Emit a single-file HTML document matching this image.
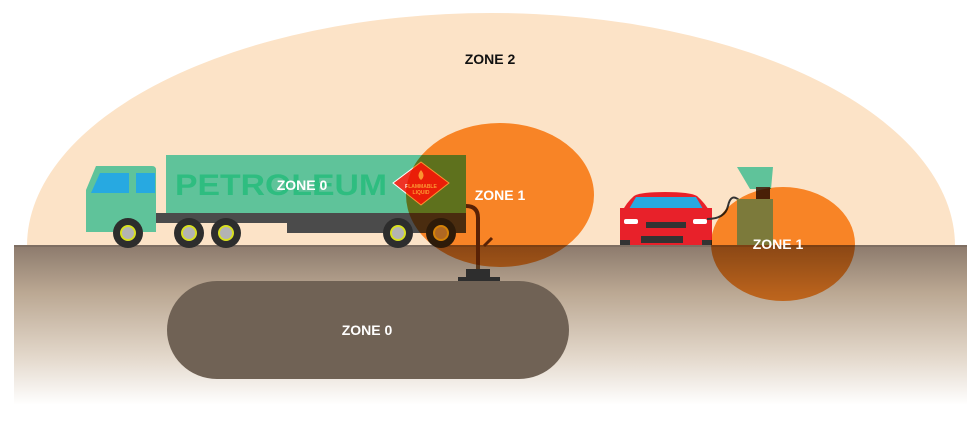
<!DOCTYPE html>
<html><head><meta charset="utf-8"><style>
html,body{margin:0;padding:0;background:#fff;width:972px;height:427px;overflow:hidden}
svg{display:block}
text{font-family:"Liberation Sans",sans-serif;font-weight:bold}
.m{mix-blend-mode:multiply}
</style></head><body>
<svg width="972" height="427" viewBox="0 0 972 427" xmlns="http://www.w3.org/2000/svg">
<defs>
<linearGradient id="g" x1="0" y1="0" x2="0" y2="1">
<stop offset="0" stop-color="#8c7a6c"/>
<stop offset="0.3" stop-color="#bba893"/>
<stop offset="0.7" stop-color="#e3d8cb"/>
<stop offset="1" stop-color="#ffffff"/>
</linearGradient>
</defs>
<path d="M27 246 A464 233 0 0 1 955 246 Z" fill="#fce3c7"/>
<text x="490" y="64" font-size="14" text-anchor="middle" fill="#111">ZONE 2</text>
<rect x="14" y="245" width="953" height="160" fill="url(#g)"/>
<rect x="14" y="245" width="953" height="2" fill="#7e6e62"/>
<rect x="167" y="281" width="402" height="98" rx="50" ry="49" fill="#706255"/>
<text x="367" y="335" font-size="14" text-anchor="middle" fill="#fff">ZONE 0</text>
<rect x="166" y="155" width="300" height="58" fill="#5fc39a"/>
<text x="175" y="195" font-size="30" fill="#2ebd80" textLength="212" lengthAdjust="spacingAndGlyphs">PETROLEUM</text>
<path d="M96 166 H152 Q156 166 156 170 V232 H86 V190 Z" fill="#5fc39a"/>
<path d="M100 173 H129 V193 H91 Z" fill="#27a9e1"/>
<rect x="136" y="173" width="19" height="20" fill="#27a9e1"/>
<rect x="156" y="213" width="310" height="10" fill="#4b4b4b"/>
<rect x="287" y="223" width="179" height="10" fill="#4b4b4b"/>
<g fill="#2d2d2d">
<circle cx="128" cy="233" r="15"/><circle cx="189" cy="233" r="15"/><circle cx="226" cy="233" r="15"/><circle cx="398" cy="233" r="15"/><circle cx="441" cy="233" r="15"/>
</g>
<g fill="#b3b3b3" stroke="#d8e021" stroke-width="2">
<circle cx="128" cy="233" r="7"/><circle cx="189" cy="233" r="7"/><circle cx="226" cy="233" r="7"/><circle cx="398" cy="233" r="7"/><circle cx="441" cy="233" r="7"/>
</g>
<path d="M421 162 L449 183 L421 205 L393 183 Z" fill="#ee3326" stroke="#fff" stroke-width="1"/>
<text x="421" y="188" font-size="5" text-anchor="middle" fill="#fff">FLAMMABLE</text>
<text x="421" y="194" font-size="5" text-anchor="middle" fill="#fff">LIQUID</text>
<path d="M421 170 q-5 6 0 10 q5 -4 0 -10z" fill="#fff"/>
<path d="M466 206 Q478 206 478 218 V272" stroke="#5a3a1e" stroke-width="4" fill="none"/>
<path d="M484 246 L492 238" stroke="#5a3a1e" stroke-width="3"/>
<rect x="466" y="269" width="24" height="9" fill="#2e2e2e"/>
<rect x="458" y="277" width="42" height="4" fill="#2e2e2e"/>
<path d="M622 245 V212 Q626 203 634 196 Q640 192 665 192 Q690 192 697 196 Q705 203 710 212 V245 Z" fill="#e8212a"/>
<path d="M636 197 H696 L703 209 H629 Z" fill="#27a9e1"/>
<rect x="620" y="222" width="10" height="23" fill="#333"/>
<rect x="702" y="222" width="10" height="23" fill="#333"/>
<path d="M620 208 H712 V240 H620Z" fill="#e8212a"/>
<rect x="624" y="219" width="14" height="5" rx="2" fill="#fff"/>
<rect x="693" y="219" width="14" height="5" rx="2" fill="#fff"/>
<rect x="646" y="222" width="40" height="6" fill="#333"/>
<rect x="641" y="236" width="42" height="7" fill="#333"/>
<path d="M707 219 Q725 219 728 206 Q731 192 740 201" stroke="#333" stroke-width="2" fill="none"/>
<path d="M737 167 H773 L771 189 H750 Z" fill="#5fc39a"/>
<rect x="756" y="187" width="14" height="12" fill="#4a3520"/>
<ellipse class="m" cx="500" cy="195" rx="94" ry="72" fill="#fb9430"/>
<ellipse class="m" cx="783" cy="244" rx="72" ry="57" fill="#fb9430"/>
<rect x="737" y="199" width="36" height="46" fill="#7c7a3b"/>
<text x="302" y="190" font-size="14" text-anchor="middle" fill="#fff">ZONE 0</text>
<text x="500" y="200" font-size="14" text-anchor="middle" fill="#fff">ZONE 1</text>
<text x="778" y="249" font-size="14" text-anchor="middle" fill="#fff">ZONE 1</text>
</svg>
</body></html>
